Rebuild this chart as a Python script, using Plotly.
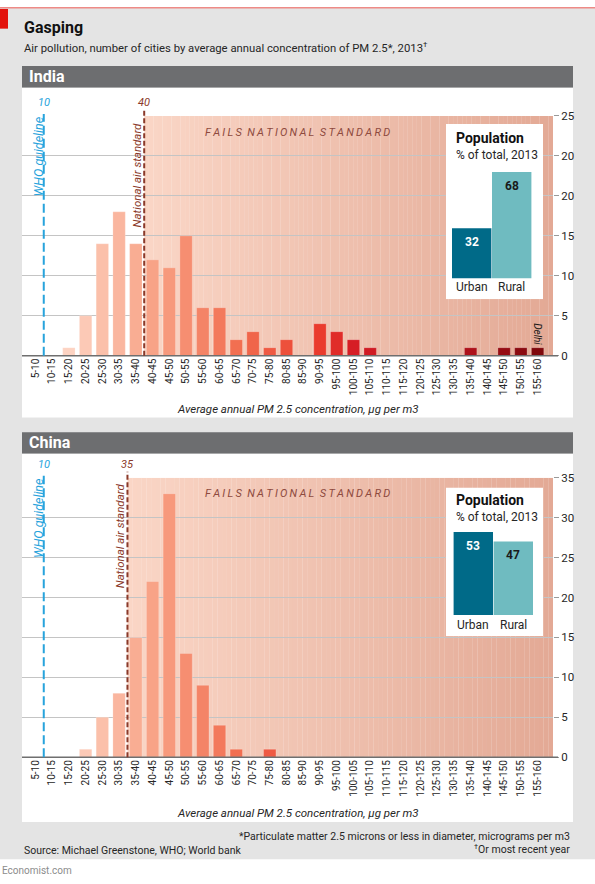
import plotly.graph_objects as go

W, H = 595, 884
FONT = "Roboto"
TEXT = "#262626"

# ---------------- data ----------------
categories = ["5-10", "10-15", "15-20", "20-25", "25-30", "30-35", "35-40", "40-45",
              "45-50", "50-55", "55-60", "60-65", "65-70", "70-75", "75-80", "80-85",
              "85-90", "90-95", "95-100", "100-105", "105-110", "110-115", "115-120",
              "120-125", "125-130", "130-135", "135-140", "140-145", "145-150",
              "150-155", "155-160"]
india_cities = [0, 0, 1, 5, 14, 18, 14, 12, 11, 15, 6, 6, 2, 3, 1, 2, 0, 4, 3, 2, 1,
                0, 0, 0, 0, 0, 1, 0, 1, 1, 1]
china_cities = [0, 0, 0, 1, 5, 8, 15, 22, 33, 13, 9, 4, 1, 0, 1, 0, 0, 0, 0, 0, 0,
                0, 0, 0, 0, 0, 0, 0, 0, 0, 0]
pop_groups = ["Urban", "Rural"]
india_pop = [32, 68]
china_pop = [53, 47]
who_guideline = 10
india_standard = 40
china_standard = 35
india_tickvals = [0, 5, 10, 15, 20, 25, 30]
india_ticktext = ["0", "5", "10", "15", "20", "20", "25"]
china_tickvals = [0, 5, 10, 15, 20, 25, 30, 35]
china_ticktext = ["0", "5", "10", "15", "20", "25", "30", "35"]

mids = [sum(float(v) for v in c.split("-")) / 2 for c in categories]

# ---------------- helpers ----------------
def px(p):
    return p / W


def py(p):
    return 1 - p / H


def hex2rgb(h):
    h = h.lstrip("#")
    return tuple(int(h[i:i + 2], 16) for i in (0, 2, 4))


def mix(c1, c2, t):
    a, b = hex2rgb(c1), hex2rgb(c2)
    return "rgb(%d,%d,%d)" % tuple(round(a[i] + (b[i] - a[i]) * t) for i in range(3))


anchors = [(0, "#fde2d6"), (2, "#fdd3c2"), (7, "#f8a387"), (12, "#f26f51"),
           (17, "#ea3b2d"), (19, "#d61d25"), (26, "#ad111a"), (30, "#7f080c")]


def bar_color(i):
    for (i0, c0), (i1, c1) in zip(anchors[:-1], anchors[1:]):
        if i0 <= i <= i1:
            return mix(c0, c1, (i - i0) / (i1 - i0))
    return anchors[-1][1]


bar_colors = [bar_color(i) for i in range(len(categories))]

X_RANGE = [3.5, 162.1]
BLUE = "#27a3dc"
BROWN = "#8b3a2a"
GRID = "#c4c4c4"
URBAN = "#006a88"
RURAL = "#6fbbc0"

fig = go.Figure()

panels = [
    dict(name="India", vals=india_cities, std=india_standard, pop=india_pop,
         tv=india_tickvals, tt=india_ticktext, ymax=30, y0=354.3, y1=110.7,
         head=(60, 82), white=(82, 417), label_y=97, who_c=151.5, nat_c=(136.7, 170.5),
         fails_y=128, title_y=408,
         box=(446, 543, 119, 297), bars=(451.7, 531.7, 275.7),
         ptitle=133, psub=150.7, plab=285, xa="x", ya="y", xi="x3", yi="y3"),
    dict(name="China", vals=china_cities, std=china_standard, pop=china_pop,
         tv=china_tickvals, tt=china_ticktext, ymax=35, y0=762.3, y1=478.3,
         head=(432, 454), white=(454, 828), label_y=465, who_c=519, nat_c=(120, 537.7),
         fails_y=494, title_y=819,
         box=(446, 543, 488.3, 639.3), bars=(453.3, 533.3, 617.7),
         ptitle=501, psub=517.7, plab=627.7, xa="x2", ya="y2", xi="x4", yi="y4"),
]

shapes = []
annotations = []


def ann(text, x, y, xref="paper", yref="paper", size=12, color=TEXT, **kw):
    d = dict(text=text, x=x, y=y, xref=xref, yref=yref, showarrow=False,
             font=dict(family=FONT, size=size, color=color))
    d.update(kw)
    annotations.append(d)


# page background
shapes.append(dict(type="rect", xref="paper", yref="paper", x0=0, x1=1, y0=py(866), y1=1,
                   fillcolor="#e4e4e4", line_width=0, layer="below"))
shapes.append(dict(type="rect", xref="paper", yref="paper", x0=0, x1=1, y0=py(1.5), y1=1,
                   fillcolor="#ee8a86", line_width=0, layer="below"))
shapes.append(dict(type="rect", xref="paper", yref="paper", x0=0, x1=px(8), y0=py(22), y1=py(2),
                   fillcolor="#e3120b", line_width=0, layer="below"))
ann("<b>Gasping</b>", px(22), py(21), size=16, color="#111111", xanchor="left", yanchor="middle")
ann("Air pollution, number of cities by average annual concentration of PM 2.5*, 2013<sup>†</sup>",
    px(22), py(41.5), size=11.3, color=TEXT, xanchor="left", yanchor="middle")

for k, p in enumerate(panels):
    xa, ya, xi, yi = p["xa"], p["ya"], p["xi"], p["yi"]
    # header and white panel
    shapes.append(dict(type="rect", xref="paper", yref="paper", x0=px(22), x1=px(573),
                       y0=py(p["head"][1]), y1=py(p["head"][0]), fillcolor="#6d6e70",
                       line_width=0, layer="below"))
    shapes.append(dict(type="rect", xref="paper", yref="paper", x0=px(22), x1=px(573),
                       y0=py(p["white"][1]), y1=py(p["white"][0]), fillcolor="white",
                       line_width=0, layer="below"))
    ann("<b>%s</b>" % p["name"], px(27), py((p["head"][0] + p["head"][1]) / 2), size=16,
        color="white", xanchor="left", yanchor="middle")

    # gradient "fails national standard" region
    n = 90
    x0s, x1s = p["std"], X_RANGE[1]
    for j in range(n):
        a = x0s + (x1s - x0s) * j / n
        b = x0s + (x1s - x0s) * (j + 1) / n + 0.05
        shapes.append(dict(type="rect", xref=xa, yref=ya, x0=a, x1=min(b, x1s), y0=0,
                           y1=p["ymax"], fillcolor=mix("#fad6c6", "#e3a995", j / (n - 1)),
                           line_width=0, layer="below"))

    fig.add_trace(go.Bar(x=mids, y=p["vals"], width=3.7, xaxis=xa, yaxis=ya,
                         marker=dict(color=bar_colors,
                                     line=dict(color="rgba(255,255,255,0.35)", width=0.6)),
                         hoverinfo="skip", showlegend=False))

    # baseline
    shapes.append(dict(type="line", xref="paper", yref="paper", x0=px(22), x1=px(558),
                       y0=py(p["y0"]), y1=py(p["y0"]), line=dict(color="#6f6f6f", width=1.5),
                       layer="above"))
    # guideline lines
    shapes.append(dict(type="line", xref=xa, yref="paper", x0=who_guideline, x1=who_guideline,
                       y0=py(p["y0"]), y1=py(p["y1"] - 2),
                       line=dict(color=BLUE, width=2, dash="9px,4px"), layer="above"))
    shapes.append(dict(type="line", xref=xa, yref="paper", x0=p["std"], x1=p["std"],
                       y0=py(p["y0"]), y1=py(p["y1"] - 6),
                       line=dict(color=BROWN, width=2, dash="5px,2.5px"), layer="above"))
    ann("<i>%d</i>" % who_guideline, who_guideline, py(p["label_y"]), xref=xa, size=11,
        color=BLUE, xanchor="center", yanchor="middle")
    ann("<i>%d</i>" % p["std"], p["std"], py(p["label_y"]), xref=xa, size=11,
        color=BROWN, xanchor="center", yanchor="middle")
    ann("<i>WHO guideline</i>", px(38.3), py(p["who_c"]), size=12.5, color=BLUE,
        textangle=-90, xanchor="center", yanchor="middle")
    ann("<i>National air standard</i>", px(p["nat_c"][0]), py(p["nat_c"][1]), size=11.5,
        color=BROWN, textangle=-90, xanchor="center", yanchor="middle")
    fails = "\u2002".join("\u2009".join(w) for w in "FAILS NATIONAL STANDARD".split())
    ann("<i>%s</i>" % fails, px(297), py(p["fails_y"]), size=11, color="#8e4a3e",
        xanchor="center", yanchor="middle")
    ann("<i>Average annual PM 2.5 concentration, µg per m3</i>", px(297.5), py(p["title_y"]),
        size=11.5, color=TEXT, xanchor="center", yanchor="middle")

    # inset population box
    bx0, bx1, by0, by1 = p["box"]
    bl, br, bbase = p["bars"]
    unit = (br - bl) / 2
    xr = [-0.5 - (bl - bx0) / unit, 1.5 + (bx1 - br) / unit]
    pct = 108 / 68.0
    yr = [-(by1 - bbase) / pct, (bbase - by0) / pct]
    shapes.append(dict(type="rect", xref=xi, yref=yi, x0=xr[0], x1=xr[1], y0=yr[0], y1=yr[1],
                       fillcolor="white", line_width=0, layer="below"))
    fig.add_trace(go.Bar(x=pop_groups, y=p["pop"], width=0.985, xaxis=xi, yaxis=yi,
                         marker=dict(color=[URBAN, RURAL], line_width=0),
                         hoverinfo="skip", showlegend=False))
    for g, v, c in zip(pop_groups, p["pop"], ["white", "#1a1a1a"]):
        ann("<b>%d</b>" % v, g, v, xref=xi, yref=yi, size=12, color=c,
            xanchor="center", yanchor="top", yshift=-5)
        ann(g, g, py(p["plab"]), xref=xi, size=12, color=TEXT,
            xanchor="center", yanchor="middle")
    ann("<b>Population</b>", px(454), py(p["ptitle"]), size=14, color="#111111",
        xanchor="left", yanchor="middle")
    ann("% of total, 2013", px(454), py(p["psub"]), size=12, color=TEXT,
        xanchor="left", yanchor="middle")

    axis_x = dict(domain=[px(22), px(553)], range=X_RANGE, anchor=ya, tickvals=mids,
                  ticktext=categories, tickangle=-90, showgrid=False, zeroline=False,
                  showline=False, ticks="", tickfont=dict(family=FONT, size=10, color=TEXT),
                  fixedrange=True)
    axis_y = dict(domain=[py(p["y0"]), py(p["y1"])], range=[0, p["ymax"]], anchor=xa,
                  side="right", tickvals=p["tv"], ticktext=p["tt"], showgrid=True,
                  gridcolor=GRID, gridwidth=1.4, zeroline=False, showline=False,
                  ticks="outside", ticklen=5, tickcolor="#9a9a9a", tickwidth=1.3,
                  tickfont=dict(family=FONT, size=11.5, color=TEXT), fixedrange=True)
    inset_x = dict(domain=[px(bx0), px(bx1)], range=xr, anchor=yi, type="category",
                   visible=False, fixedrange=True)
    inset_y = dict(domain=[py(by1), py(by0)], range=yr, anchor=xi, visible=False,
                   fixedrange=True)
    sx = "" if xa == "x" else xa[1:]
    fig.layout["xaxis" + sx] = axis_x
    fig.layout["yaxis" + sx] = axis_y
    fig.layout["xaxis" + xi[1:]] = inset_x
    fig.layout["yaxis" + yi[1:]] = inset_y

# Delhi label
ann("<i>Delhi</i>", mids[-1], py(332), xref="x", size=10, color="#1a1a1a", textangle=90,
    xanchor="center", yanchor="middle")

# footer
ann("*Particulate matter 2.5 microns or less in diameter, micrograms per m3", px(572), py(843),
    size=10.5, color=TEXT, xanchor="right", yanchor="middle")
ann("<sup>†</sup>Or most recent year", px(572), py(856), size=10.5, color=TEXT,
    xanchor="right", yanchor="middle")
ann("Source: Michael Greenstone, WHO; World bank", px(22), py(857), size=10.5, color=TEXT,
    xanchor="left", yanchor="middle")
ann("Economist.com", px(0), py(877), size=10, color="#8c8c8c", xanchor="left",
    yanchor="middle")

fig.update_layout(width=W, height=H, margin=dict(l=0, r=0, t=0, b=0),
                  paper_bgcolor="white", plot_bgcolor="rgba(0,0,0,0)",
                  shapes=shapes, annotations=annotations, showlegend=False,
                  font=dict(family=FONT, color=TEXT))

page_fix = (
    "document.documentElement.style.margin='0';"
    "document.documentElement.style.padding='0';"
    "document.documentElement.style.overflow='hidden';"
    "document.body.style.margin='0';"
    "document.body.style.padding='0';"
    "document.body.style.overflow='hidden';"
    "var gd=document.getElementById('{plot_id}');"
    "gd.style.position='fixed';gd.style.top='0px';gd.style.left='0px';"
)
fig.write_html("out.html", config={"displayModeBar": False}, post_script=page_fix)
